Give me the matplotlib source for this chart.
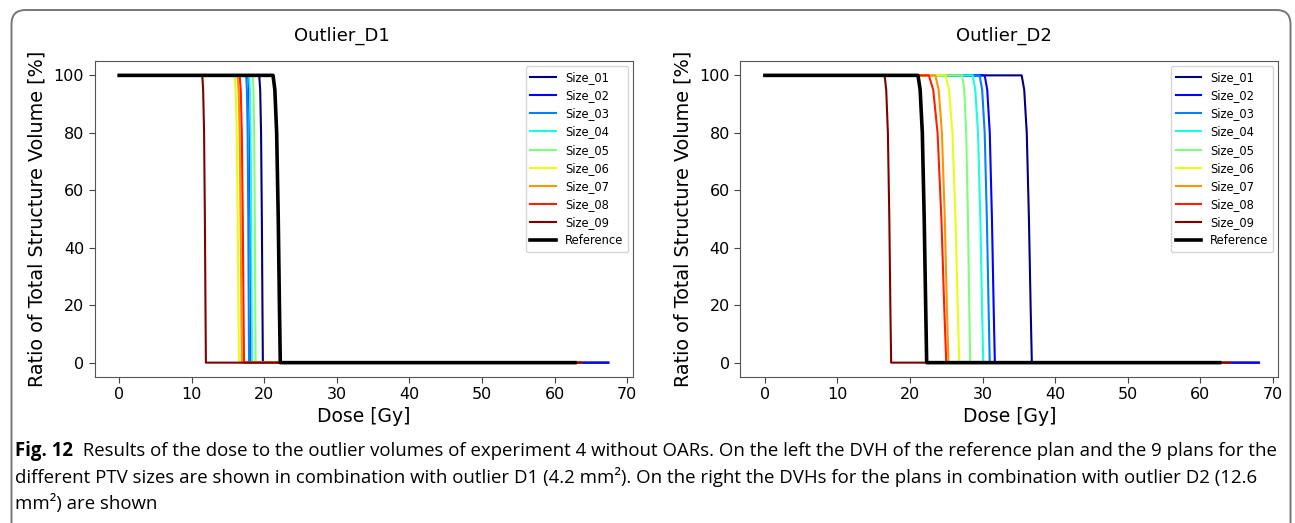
import matplotlib
matplotlib.use('Agg')
import matplotlib.pyplot as plt
import matplotlib.patches as mpatches
from matplotlib.transforms import IdentityTransform

W, H = 1295, 523  # Размер картинки в пикселях

labels = ['Size_01', 'Size_02', 'Size_03', 'Size_04', 'Size_05',
          'Size_06', 'Size_07', 'Size_08', 'Size_09', 'Reference']

# Уровни объёма [%] для точек каждой кривой
vol = [100, 100, 95, 80, 50, 20, 0, 0]

# Доза [Gy] в этих точках, Outlier D1
d1_doses = [
    [0, 19.30, 19.43, 19.55, 19.66, 19.74, 19.80, 67.4],
    [0, 17.80, 17.90, 18.00, 18.09, 18.15, 18.20, 67.4],
    [0, 17.50, 17.60, 17.70, 17.79, 17.85, 17.90, 63.0],
    [0, 17.90, 18.00, 18.10, 18.19, 18.25, 18.30, 63.0],
    [0, 18.40, 18.50, 18.60, 18.69, 18.75, 18.80, 63.0],
    [0, 15.90, 16.05, 16.20, 16.33, 16.43, 16.50, 63.6],
    [0, 16.30, 16.45, 16.60, 16.73, 16.83, 16.90, 63.6],
    [0, 16.60, 16.75, 16.90, 17.03, 17.13, 17.20, 63.6],
    [0, 11.45, 11.57, 11.70, 11.81, 11.89, 11.95, 63.6],
    [0, 21.20, 21.45, 21.70, 21.92, 22.08, 22.20, 62.8],
]

# Outlier D2
d2_doses = [
    [0, 35.40, 35.75, 36.10, 36.40, 36.63, 36.80, 68.1],
    [0, 30.30, 30.65, 31.00, 31.30, 31.53, 31.70, 68.1],
    [0, 29.60, 29.95, 30.30, 30.60, 30.83, 31.00, 62.5],
    [0, 28.65, 29.00, 29.38, 29.70, 29.93, 30.10, 62.5],
    [0, 27.20, 27.48, 27.75, 27.99, 28.17, 28.30, 62.5],
    [0, 24.90, 25.38, 25.85, 26.27, 26.57, 26.80, 64.1],
    [0, 23.50, 23.95, 24.40, 24.80, 25.08, 25.30, 64.1],
    [0, 22.60, 23.20, 23.80, 24.33, 24.71, 25.00, 64.1],
    [0, 16.50, 16.72, 16.95, 17.15, 17.29, 17.40, 64.1],
    [0, 21.10, 21.40, 21.70, 21.96, 22.16, 22.30, 62.7],
]

titles = ['Outlier_D1', 'Outlier_D2']
title_x = [342, 1004]

caption = [
    ('Fig. 12', '  Results of the dose to the outlier volumes of experiment 4 without OARs. '
                'On the left the DVH of the reference plan and the 9 plans for the'),
    ('', 'different PTV sizes are shown in combination with outlier D1 (4.2 mm\u00b2). '
         'On the right the DVHs for the plans in combination with outlier D2 (12.6'),
    ('', 'mm\u00b2) are shown'),
]
caption_y = [451, 477, 503]

colors = [plt.cm.jet(i / 8) for i in range(9)] + ['black']


def dvh_plot(ax, doses, title, tx):
    for d, lab, c in zip(doses, labels, colors):
        lw = 2.6 if lab == 'Reference' else 1.5
        ax.plot(d, vol, color=c, lw=lw, label=lab)
    ax.set_xlim(-3.4, 70.8)
    ax.set_ylim(-5, 105)
    ax.set_xticks(range(0, 71, 10))
    ax.set_yticks(range(0, 101, 20))
    ax.tick_params(labelsize=11.5, color='#444', length=4)
    for s in ax.spines.values():
        s.set_color('#555')
    ax.set_xlabel('Dose [Gy]', fontsize=13.5, labelpad=3)
    ax.set_ylabel('Ratio of Total Structure Volume [%]', fontsize=13.8, labelpad=5)
    ax.legend(loc='upper right', fontsize=8.3, borderaxespad=0.45,
              labelspacing=0.45, handlelength=2.2)
    ax.figure.text(tx / W, 1 - 36 / H, title, ha='center', va='center', fontsize=13)


fig = plt.figure(figsize=(W / 100, H / 100), dpi=100)
ax1 = fig.add_axes([94.5 / W, 1 - 377 / H, 538.5 / W, 316 / H])
ax2 = fig.add_axes([740.3 / W, 1 - 377 / H, 538.1 / W, 316 / H])
dvh_plot(ax1, d1_doses, titles[0], title_x[0])
dvh_plot(ax2, d2_doses, titles[1], title_x[1])

# Рамка с закруглёнными углами
frame = mpatches.FancyBboxPatch((11.5, -30), 1279, H - 10 + 30,
                                boxstyle='round,pad=0,rounding_size=14',
                                fill=False, ec='#777777', lw=1.4)
frame.set_transform(IdentityTransform())
fig.add_artist(frame)

# Подпись
fig.canvas.draw()
r = fig.canvas.get_renderer()
fs = 13.45
x0 = 15
for (bold, rest), yy in zip(caption, caption_y):
    x = x0
    if bold:
        t = fig.text(x / W, 1 - yy / H, bold, fontsize=fs, fontweight='bold',
                     family='Open Sans', va='center')
        x = t.get_window_extent(r).x1
    fig.text(x / W, 1 - yy / H, rest, fontsize=fs, family='Open Sans', va='center')

fig.savefig('out.png', dpi=100)
